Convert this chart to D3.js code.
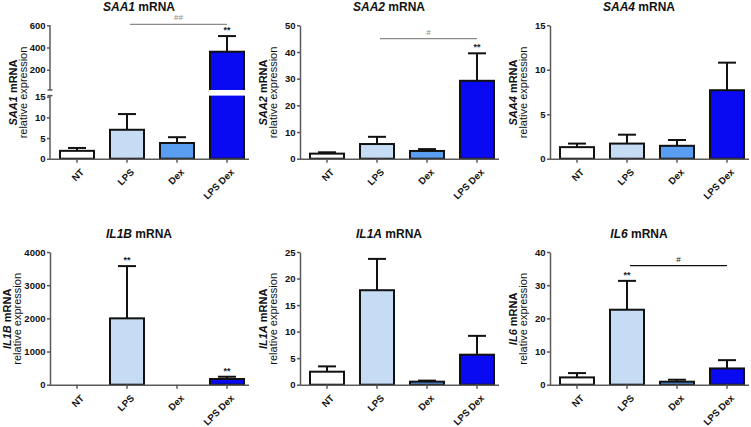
<!DOCTYPE html>
<html><head><meta charset="utf-8">
<script src="https://cdn.jsdelivr.net/npm/d3@7"></script>
<style>
body{margin:0;background:#fff;}
svg{display:block;font-family:"Liberation Sans",Arial,sans-serif;}
</style></head>
<body><svg id="c" width="751" height="427"></svg>
<script>
const categories = ["NT","LPS","Dex","LPS Dex"];
const colors = ["#ffffff","#c6dcf5","#5a9ef2","#0a0af2"];

const saa1Mean = [1.9, 7.0, 3.8, 362];
const saa1Sem  = [0.7, 3.8, 1.4, 141];
const saa1TicksLow = [0,5,10,15];
const saa1TicksHigh = [200,400,600];

const saa2Mean = [1.9, 5.5, 2.9, 29.2];
const saa2Sem  = [0.5, 2.7, 0.7, 10.3];
const saa2Ticks = [0,10,20,30,40,50];

const saa4Mean = [1.3, 1.7, 1.45, 7.7];
const saa4Sem  = [0.4, 1.0, 0.65, 3.1];
const saa4Ticks = [0,5,10,15];

const il1bMean = [1, 2000, 0.5, 172];
const il1bSem  = [0.5, 1575, 0.3, 68];
const il1bTicks = [0,1000,2000,3000,4000];

const il1aMean = [2.45, 17.8, 0.57, 5.65];
const il1aSem  = [1.0, 5.9, 0.2, 3.55];
const il1aTicks = [0,5,10,15,20,25];

const il6Mean = [2.2, 22.6, 0.9, 4.9];
const il6Sem  = [1.3, 8.7, 0.6, 2.5];
const il6Ticks = [0,10,20,30,40];

const svg = d3.select("#c");
const axisCol = "#5a5a5a";
const fmt = d3.format("d");

const panels = [
  {gene:"SAA1", mean:saa1Mean, sem:saa1Sem, broken:true, x0:50, y0:158.7, ytop:25.3, lab:0,
   stars:[3], sig:{from:1,to:3,label:"##",color:"#8a8a8a", y:24.3}},
  {gene:"SAA2", mean:saa2Mean, sem:saa2Sem, ticks:saa2Ticks, x0:300, y0:158.7, ytop:25.3, lab:0,
   stars:[3], sig:{from:1,to:3,label:"#",color:"#8a8a8a", y:38.7}},
  {gene:"SAA4", mean:saa4Mean, sem:saa4Sem, ticks:saa4Ticks, x0:550, y0:158.7, ytop:25.3, lab:0, stars:[]},
  {gene:"IL1B", mean:il1bMean, sem:il1bSem, ticks:il1bTicks, x0:50, y0:384.7, ytop:252, lab:-6, stars:[1,3]},
  {gene:"IL1A", mean:il1aMean, sem:il1aSem, ticks:il1aTicks, x0:300, y0:384.7, ytop:252, lab:0, stars:[]},
  {gene:"IL6", mean:il6Mean, sem:il6Sem, ticks:il6Ticks, x0:550, y0:384.7, ytop:252, lab:0,
   stars:[1], sig:{from:1,to:3,label:"#",color:"#111", y:265.7}}
];

function styleTickText(sel){
  sel.attr("font-size",9.5).attr("font-weight","bold").attr("fill","#111")
     .attr("font-family","Liberation Sans, Arial, sans-serif");
}

panels.forEach(p => {
  const g = svg.append("g");
  const x = d3.scaleBand().domain(categories).range([p.x0, p.x0+204]).paddingInner(0.32).paddingOuter(0.2);
  let y, yLow, yHigh;
  if (p.broken) {
    yLow = d3.scaleLinear().domain([0,15]).range([p.y0, 96.7]);
    yHigh = d3.scaleLinear().domain([20,600]).range([89.7, p.ytop]);
    y = v => v <= 15 ? yLow(v) : yHigh(v);
  } else {
    y = d3.scaleLinear().domain([0, d3.max(p.ticks)]).range([p.y0, p.ytop]);
  }

  // title
  const t = g.append("text").attr("x", p.x0+89).attr("y", p.ytop - 14.5)
    .attr("text-anchor","middle").attr("font-size",12).attr("font-weight","bold").attr("fill","#111");
  t.append("tspan").attr("font-style","italic").text(p.gene);
  t.append("tspan").text(" mRNA");

  // y label
  const cy = (p.y0 + p.ytop)/2 + 0.5;
  const l1 = g.append("text").attr("transform",`translate(${p.x0-33+p.lab},${cy}) rotate(-90)`)
    .attr("text-anchor","middle").attr("font-size",11).attr("font-weight","bold").attr("fill","#111");
  l1.append("tspan").attr("font-style","italic").text(p.gene);
  l1.append("tspan").text(" mRNA");
  g.append("text").attr("transform",`translate(${p.x0-23+p.lab},${cy}) rotate(-90)`)
    .attr("text-anchor","middle").attr("font-size",11).attr("fill","#111").text("relative expression");

  // bars
  categories.forEach((c,i) => {
    const bx = x(c), bw = x.bandwidth();
    const top = y(p.mean[i]);
    const visible = (p.y0 - top) > 1;
    g.append("rect").attr("x",bx).attr("y",top).attr("width",bw).attr("height",p.y0-top)
      .attr("fill",colors[i]).attr("stroke", visible ? "#111" : "none").attr("stroke-width",2);
    const et = y(p.mean[i]+p.sem[i]);
    const cx = bx + bw/2;
    if (visible) {
      g.append("line").attr("x1",cx).attr("x2",cx).attr("y1",top).attr("y2",et)
        .attr("stroke","#111").attr("stroke-width",2);
      g.append("line").attr("x1",cx-9).attr("x2",cx+9).attr("y1",et).attr("y2",et)
        .attr("stroke","#111").attr("stroke-width",2);
    }
    if (p.stars.includes(i)) {
      g.append("text").attr("x",cx).attr("y",et-3).attr("text-anchor","middle")
        .attr("font-size",9).attr("font-weight","bold").attr("fill","#222").text("**");
    }
  });

  if (p.broken) {
    const bx = x(categories[3]);
    g.append("rect").attr("x",bx-2).attr("y",yHigh(20)+0.3).attr("width",x.bandwidth()+4)
      .attr("height",yLow(15)-1.1-yHigh(20)-0.3).attr("fill","#fff");
  }

  // y axis
  if (p.broken) {
    const aLow = d3.axisLeft(yLow).tickValues(saa1TicksLow).tickFormat(fmt).tickSize(3).tickPadding(1.5);
    const aHigh = d3.axisLeft(yHigh).tickValues(saa1TicksHigh).tickFormat(fmt).tickSize(3).tickPadding(1.5);
    const gl = g.append("g").attr("transform",`translate(${p.x0},0)`).call(aLow);
    const gh = g.append("g").attr("transform",`translate(${p.x0},0)`).call(aHigh);
    [gl,gh].forEach(a => {
      a.select(".domain").remove();
      a.selectAll("line").attr("stroke",axisCol).attr("stroke-width",1.5);
      styleTickText(a.selectAll("text"));
    });
    const segs = [[p.ytop, yHigh(20)+0.3],[yLow(15)-1.1, p.y0]];
    segs.forEach(s => {
      g.append("line").attr("x1",p.x0).attr("x2",p.x0).attr("y1",s[0]).attr("y2",s[1])
        .attr("stroke",axisCol).attr("stroke-width",1.5);
    });
    [yHigh(20)+0.3, yLow(15)-1.1].forEach(yy => {
      g.append("line").attr("x1",p.x0-2.5).attr("x2",p.x0+2.5).attr("y1",yy).attr("y2",yy)
        .attr("stroke",axisCol).attr("stroke-width",1.5);
    });
  } else {
    const ay = g.append("g").attr("transform",`translate(${p.x0},0)`)
      .call(d3.axisLeft(y).tickValues(p.ticks).tickFormat(fmt).tickSize(3).tickPadding(1.5).tickSizeOuter(0));
    ay.select(".domain").attr("stroke",axisCol).attr("stroke-width",1.5);
    ay.selectAll("line").attr("stroke",axisCol).attr("stroke-width",1.5);
    styleTickText(ay.selectAll("text"));
  }

  // x axis
  const ax = g.append("g").attr("transform",`translate(0,${p.y0})`)
    .call(d3.axisBottom(x).tickSize(4).tickSizeOuter(0).tickPadding(4));
  ax.select(".domain").attr("d",`M${p.x0},0.5H${Math.min(p.x0+199,751)}`).attr("stroke",axisCol).attr("stroke-width",1.5);
  ax.selectAll(".tick line").attr("stroke",axisCol).attr("stroke-width",1.5);
  ax.selectAll(".tick text").attr("font-size",9.5).attr("font-weight","bold").attr("fill","#111")
    .attr("font-family","Liberation Sans, Arial, sans-serif")
    .attr("text-anchor","end").attr("dy",0).attr("transform","translate(2,8.5) rotate(-45)");

  // significance
  if (p.sig) {
    const x1 = x(categories[p.sig.from]) + x.bandwidth()/2 + 3;
    const x2 = x(categories[p.sig.to]) + x.bandwidth()/2;
    const ly = p.sig.y;
    g.append("line").attr("x1",x1).attr("x2",x2).attr("y1",ly).attr("y2",ly)
      .attr("stroke",p.sig.color).attr("stroke-width",1.3);
    g.append("text").attr("x",(x1+x2)/2).attr("y",ly-4).attr("text-anchor","middle")
      .attr("font-size",8).attr("fill",p.sig.color).text(p.sig.label);
  }
});
</script></body></html>
